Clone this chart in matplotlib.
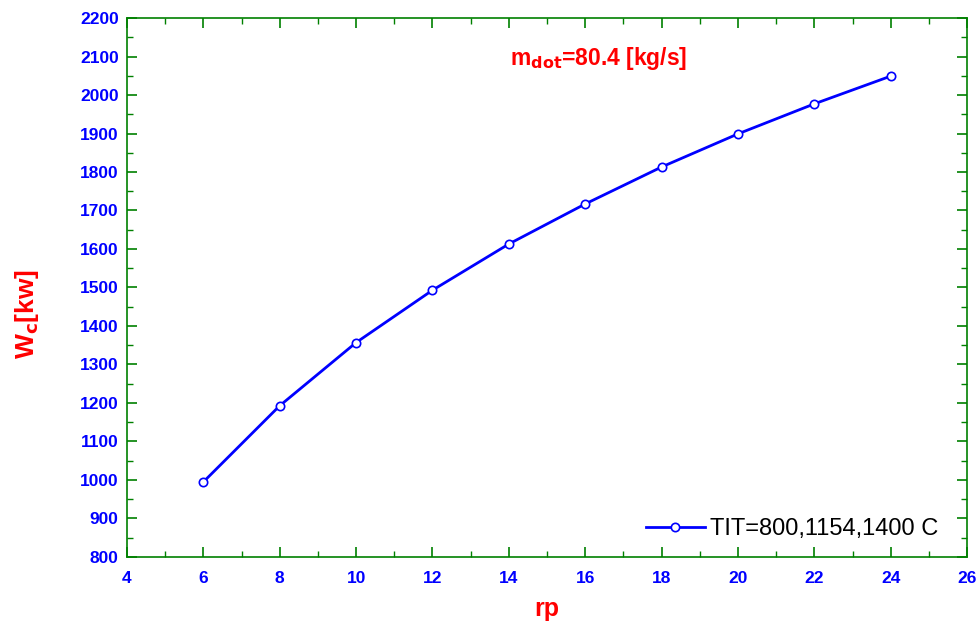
import matplotlib
matplotlib.use("Agg")
import matplotlib.pyplot as plt
from matplotlib.ticker import MultipleLocator

# compressor work vs pressure ratio
rp = [6, 8, 10, 12, 14, 16, 18, 20, 22, 24]
wc = [995, 1193, 1357, 1493, 1613, 1717, 1813, 1899, 1977, 2049]

plt.rcParams["font.family"] = ["Liberation Sans", "DejaVu Sans"]

fig = plt.figure(figsize=(9.78, 6.21), dpi=100)
ax = fig.add_axes([0.1299, 0.1031, 0.8589, 0.8679])

ax.plot(rp, wc, color="#0000ff", lw=2, marker="o", markersize=6,
        markerfacecolor="white", markeredgecolor="#0000ff", markeredgewidth=1.2,
        label="TIT=800,1154,1400 C")

ax.set_xlim(4, 26)
ax.set_ylim(800, 2200)
ax.xaxis.set_major_locator(MultipleLocator(2))
ax.xaxis.set_minor_locator(MultipleLocator(1))
ax.yaxis.set_major_locator(MultipleLocator(100))
ax.yaxis.set_minor_locator(MultipleLocator(50))

green = "#008000"
for s in ax.spines.values():
    s.set_color(green)
    s.set_linewidth(1.2)
ax.tick_params(which="both", direction="in", top=True, right=True, color=green)
ax.tick_params(which="major", length=7, width=1.2, labelsize=12.5, labelcolor="#0000ff")
ax.tick_params(axis="x", which="major", pad=10)
ax.tick_params(axis="y", which="major", pad=6)
ax.tick_params(which="minor", length=4, width=1)
for lab in ax.get_xticklabels() + ax.get_yticklabels():
    lab.set_fontweight("bold")

ax.set_xlabel("rp", color="red", fontsize=18, fontweight="bold", labelpad=8)
ax.set_ylabel(r"W$_\mathbf{c}$[kw]", color="red", fontsize=19, fontweight="bold")
ax.yaxis.set_label_coords(-0.102, 0.45)

ax.text(0.562, 0.925, r"m$_\mathbf{dot}$=80.4 [kg/s]", transform=ax.transAxes,
        color="red", fontsize=16.5, fontweight="bold", ha="center", va="center")

leg = ax.legend(loc="lower right", frameon=False, fontsize=17, handlelength=2.5,
                borderaxespad=0.3, handletextpad=0.2, bbox_to_anchor=(0.985, 0.0))

fig.savefig("out.png", dpi=100)
